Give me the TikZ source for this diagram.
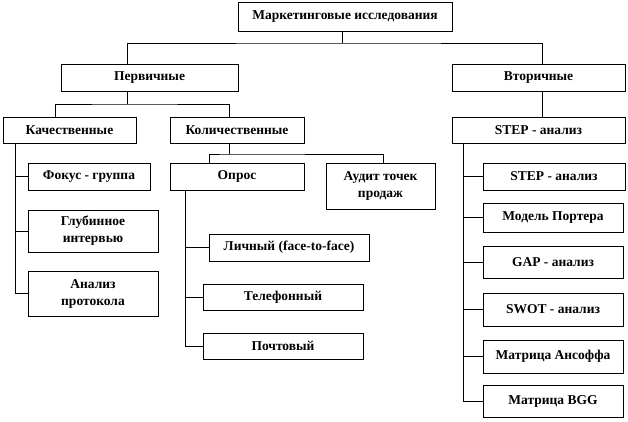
\documentclass[tikz,border=0pt]{standalone}
\usepackage{fontspec}
\setmainfont{Liberation Serif}

\begin{document}
\begin{tikzpicture}[x=1pt, y=-1pt, line width=0.9pt,
  box/.style={draw, rectangle, inner sep=0pt, align=center,
    font=\bfseries\fontsize{13.5}{17}\selectfont}]
\useasboundingbox (0,0) rectangle (628,421);

\node[box, minimum width=214, minimum height=29] (mi) at (345,16.5) {Маркетинговые исследования};

\node[box, minimum width=177, minimum height=27] (perv) at (149.5,77.5) {Первичные};
\node[box, minimum width=173, minimum height=27] (vtor) at (538.5,77.5) {Вторичные};

\node[box, minimum width=133, minimum height=26] (kach) at (69.5,130) {Качественные};
\node[box, minimum width=134, minimum height=26] (kol) at (237,130) {Количественные};
\node[box, minimum width=173, minimum height=26] (step) at (538.5,130) {STEP - анализ};

\node[box, minimum width=122, minimum height=27] (fokus) at (89,176.5) {Фокус - группа};
\node[box, minimum width=130, minimum height=42] (glub) at (93,231) {Глубинное\\интервью};
\node[box, minimum width=130, minimum height=45] (anal) at (93,293.5) {Анализ\\протокола};

\node[box, minimum width=134, minimum height=27] (opros) at (237,176.5) {Опрос};
\node[box, minimum width=109, minimum height=46] (audit) at (380.5,186) {Аудит точек\\продаж};

\node[box, minimum width=160, minimum height=27] (lich) at (289,247.5) {Личный (face-to-face)};
\node[box, minimum width=160, minimum height=26] (tel) at (283,297) {Телефонный};
\node[box, minimum width=160, minimum height=26] (pocht) at (283,346) {Почтовый};

\node[box, minimum width=142, minimum height=27] (step1) at (554,176.5) {STEP - анализ};
\node[box, minimum width=140, minimum height=29] (porter) at (553,217.5) {Модель Портера};
\node[box, minimum width=140, minimum height=32] (gap) at (553,262) {GAP - анализ};
\node[box, minimum width=140, minimum height=33] (swot) at (553,309.5) {SWOT - анализ};
\node[box, minimum width=140, minimum height=33] (ansoff) at (553,356.5) {Матрица Ансоффа};
\node[box, minimum width=140, minimum height=32] (bgg) at (553,401) {Матрица BGG};

% top level
\coordinate (jm) at (342,43);
\draw (mi.south -| jm) -- (jm);
\draw ([xshift=-22.5pt]perv.north) |- (jm) -| ([xshift=3.5pt]vtor.north);

% primary
\coordinate (jp) at (127,104);
\draw (perv.south -| jp) -- (jp);
\draw ([xshift=-14.5pt]kach.north) |- (jp) -| ([xshift=-8pt]kol.north);

\coordinate (jk) at (229,154);
\draw (kol.south -| jk) -- (jk);
\draw ([xshift=-28pt]opros.north) |- (jk) -| ([xshift=2.5pt]audit.north);

% qualitative
\coordinate (tk) at (15,0);
\draw (kach.south -| tk) |- (anal.west);
\draw (tk |- fokus.west) -- (fokus.west);
\draw (tk |- glub.west) -- (glub.west);

% survey
\coordinate (to) at (185,0);
\draw (opros.south -| to) |- (pocht.west);
\draw (to |- lich.west) -- (lich.west);
\draw (to |- tel.west) -- (tel.west);

% secondary
\draw ([xshift=3.5pt]vtor.south) -- ([xshift=3.5pt]step.north);
\coordinate (ts) at (463,0);
\draw (step.south -| ts) |- (bgg.west);
\draw (ts |- step1.west) -- (step1.west);
\draw (ts |- porter.west) -- (porter.west);
\draw (ts |- gap.west) -- (gap.west);
\draw (ts |- swot.west) -- (swot.west);
\draw (ts |- ansoff.west) -- (ansoff.west);
\end{tikzpicture}
\end{document}
